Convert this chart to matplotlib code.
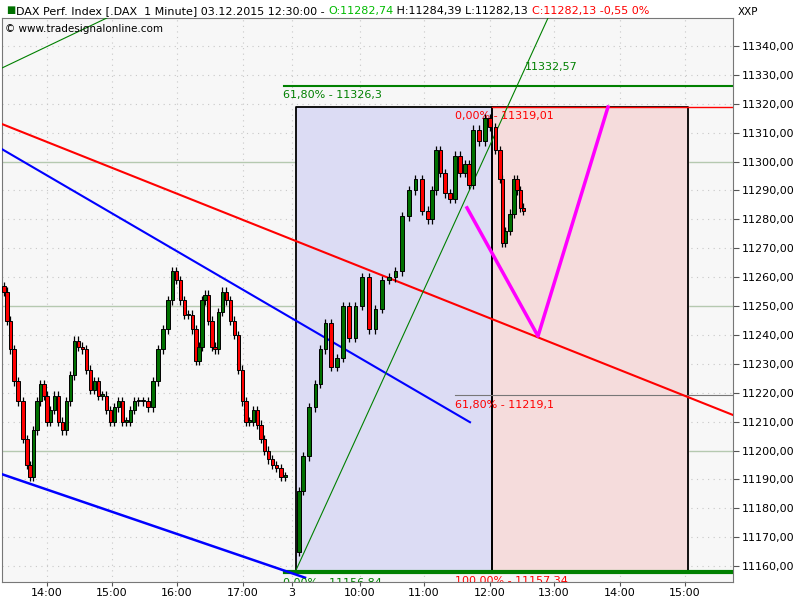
import numpy as np
import matplotlib.pyplot as plt

# bar slot positions (chart x units) and close prices
day2_x = [2, 5, 8, 12, 15, 20, 25, 28, 31, 35, 38, 42, 45, 48, 52, 56, 60, 64, 68, 72,
          76, 80, 84, 88, 92, 96, 100, 104, 108, 112, 116, 120, 124, 128, 132, 136, 140,
          145, 150, 155, 160, 165, 170, 174, 178, 182, 186, 190, 194, 197, 200, 203, 206,
          210, 213, 216, 220, 224, 228, 232, 236, 240, 244, 247, 251, 255, 259, 262, 266,
          270, 274, 278, 283, 287]
day2_close = [11257, 11255, 11245, 11235, 11224, 11217, 11204, 11195, 11191, 11207, 11217,
              11223, 11219, 11210, 11214, 11219, 11210, 11207, 11217, 11226, 11238, 11236,
              11235, 11228, 11221, 11224, 11219, 11219, 11214, 11210, 11215, 11217, 11210,
              11210, 11214, 11217, 11217, 11217, 11215, 11224, 11235, 11242, 11252, 11262,
              11259, 11252, 11247, 11247, 11242, 11231, 11236, 11252, 11254, 11245, 11236,
              11235, 11248, 11255, 11252, 11245, 11240, 11228, 11217, 11210, 11210, 11214,
              11209, 11204, 11200, 11197, 11195, 11194, 11191, 11191]
day3_x = [297, 300, 305, 312, 318, 322, 328, 333, 340, 345, 352, 358, 365, 372, 378, 385,
          392, 398, 405, 412, 418, 425, 430, 433, 438, 442, 447, 452, 457, 462, 467, 470,
          475, 482, 487, 492, 498, 501, 503, 507, 512, 515, 518, 522, 524]
day3_close = [11165, 11186, 11198, 11215, 11223, 11235, 11244, 11229, 11232, 11250, 11239,
              11250, 11260, 11242, 11249, 11259, 11260, 11262, 11281, 11290, 11294, 11283,
              11280, 11290, 11304, 11296, 11289, 11287, 11302, 11296, 11299, 11292, 11311,
              11307, 11315, 11312, 11304, 11294, 11272, 11276, 11282, 11294, 11290, 11284,
              11283]

tick_pos = [47, 112, 177, 243, 292, 360, 424, 490, 554, 620, 685]
tick_lab = ['14:00', '15:00', '16:00', '17:00', '3', '10:00', '11:00', '12:00', '13:00',
            '14:00', '15:00']

fib_low, fib_high = 11158, 11319
fib_ext = 11326.3
fib_mid = 11219.1

fig = plt.figure(figsize=(8, 6), dpi=100)
fig.patch.set_facecolor('white')
ax = fig.add_axes([2 / 800, 18 / 600, 731 / 800, 564 / 600])
ax.set_facecolor('#f7f7f7')
ax.set_xlim(2, 733)
ax.set_ylim(11154.5, 11349.7)

# grid
yt = np.arange(11160, 11341, 10)
for y in yt:
    if y % 50 == 0:
        ax.axhline(y, color='#b5c9b0', lw=1, zorder=0)
    else:
        ax.axhline(y, color='#c8c8c8', lw=0.8, ls=(0, (1, 4)), zorder=0)
for x in tick_pos:
    ax.axvline(x, color='#c8c8c8', lw=0.8, ls=(0, (1, 4)), zorder=0)

# fib boxes
ax.fill_between([296, 492], fib_low, fib_high, color='#dcdcf4', zorder=1)
ax.fill_between([492, 688], fib_low, fib_high, color='#f5dcdc', zorder=1)
for x0, x1 in [(296, 492), (492, 688)]:
    ax.plot([x0, x1, x1, x0, x0], [fib_low, fib_low, fib_high, fib_high, fib_low],
            color='black', lw=1.3, zorder=2)
ax.plot([284, 733], [fib_ext, fib_ext], color='#008000', lw=1.5, zorder=2)
ax.plot([285, 733], [fib_low, fib_low], color='#008000', lw=3, zorder=2)
ax.plot([492, 733], [fib_high, fib_high], color='red', lw=1, zorder=2)
ax.plot([455, 733], [fib_mid, fib_mid], color='#777777', lw=0.8, zorder=2)

# trend lines
ax.plot([2, 733], [11313, 11212.3], color='red', lw=1.5, zorder=3)
ax.plot([2, 470], [11304.3, 11209.8], color='blue', lw=1.5, zorder=3)
ax.plot([2, 305], [11191.8, 11156], color='blue', lw=1.8, zorder=3)
ax.plot([296, 548], [11158.6, 11349.7], color='green', lw=0.8, zorder=3)
ax.plot([2, 145], [11332.4, 11356], color='green', lw=0.8, zorder=3)
ax.plot([467, 538, 608], [11284, 11239.6, 11318.9], color='#ff00ff', lw=2.5, zorder=3)


def candles(xs, closes):
    for i in range(1, len(xs)):
        o, c = closes[i - 1], closes[i]
        col = '#007000' if c >= o else '#ff0000'
        lo, hi = min(o, c), max(o, c)
        xm = (xs[i] + xs[i - 1]) / 2 + 0.5
        ax.vlines(xm, lo - 1.5, hi + 1.5, color='black', lw=0.9, zorder=4)
        ax.bar(xm, max(hi - lo, 0.4), bottom=lo, width=3.2, color=col,
               edgecolor='black', lw=0.7, zorder=5)


candles(day2_x, day2_close)
candles(day3_x, day3_close)

# fib labels
ax.text(283, fib_ext - 1.5, '61,80% - 11326,3', color='#008000', fontsize=8, va='top')
ax.text(525, 11331, '11332,57', color='#008000', fontsize=8, va='bottom')
ax.text(455, fib_high - 1.5, '0,00% - 11319,01', color='red', fontsize=8, va='top')
ax.text(455, fib_mid - 1.5, '61,80% - 11219,1', color='red', fontsize=8, va='top')
ax.text(283, fib_low - 2, '0,00% - 11156,84', color='#008000', fontsize=8, va='top', clip_on=True)
ax.text(455, fib_low - 1.5, '100,00% - 11157,34', color='red', fontsize=8, va='top', clip_on=True)

# axes
ax.yaxis.tick_right()
ax.set_yticks(yt)
ax.set_yticklabels([f'{v:.2f}'.replace('.', ',') for v in yt], fontsize=8)
ax.set_xticks(tick_pos)
ax.set_xticklabels(tick_lab, fontsize=8)
ax.tick_params(axis='x', length=3, pad=1, color='#555555')
ax.tick_params(axis='y', length=4, pad=2, color='#555555')
for s in ax.spines.values():
    s.set_color('#777777')

fig.text(738 / 800, 1 - 12 / 600, 'XXP', fontsize=7.5, va='center')
ax.text(5, 11346, '\u00a9 www.tradesignalonline.com', fontsize=7.5, va='center')
fig.text(6 / 800, 1 - 10 / 600, '\u25a0', color='#007000', fontsize=7, va='center')
hx = 16 / 800
for t, c in [('DAX Perf. Index [.DAX  1 Minute] 03.12.2015 12:30:00 - ', 'black'),
             ('O:11282,74', '#00bb00'), (' H:11284,39 L:11282,13 ', 'black'),
             ('C:11282,13 -0,55 0%', 'red')]:
    tx = fig.text(hx, 1 - 11 / 600, t, color=c, fontsize=8, va='center')
    fig.canvas.draw()
    bb = tx.get_window_extent()
    hx = bb.x1 / 800

fig.savefig('out.png', dpi=100)
